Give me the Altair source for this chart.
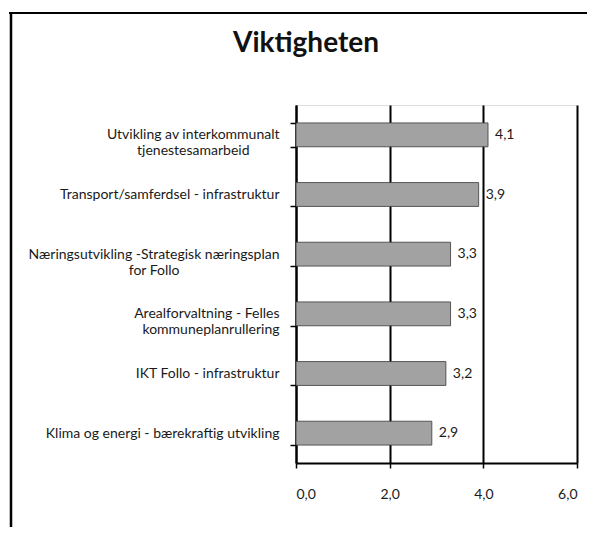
import altair as alt
import pandas as pd

# ---- data ----
line1 = [
    "Utvikling av interkommunalt",
    "Transport/samferdsel - infrastruktur",
    "Næringsutvikling -Strategisk næringsplan",
    "Arealforvaltning - Felles",
    "IKT Follo - infrastruktur",
    "Klima og energi - bærekraftig utvikling",
]
line2 = [
    "tjenestesamarbeid",
    "",
    "for Follo",
    "kommuneplanrullering",
    "",
    "",
]
values = [4.1, 3.9, 3.3, 3.3, 3.2, 2.9]
x_ticks = [0, 2, 4, 6]
title_text = "Viktigheten"

# centring of the second line under the first (Excel-style centred wrapped labels):
# blank, non-whitespace glyphs appended to the shorter line
BLANK = "\u2800"
pad_count = [3, 0, 10, 0, 0, 0]

cats = []
for a, b, n in zip(line1, line2, pad_count):
    cats.append(a + ("|" + b + BLANK * n if b else ""))

df = pd.DataFrame({"cat": cats, "v": values})

FONT = "Lato"

y_enc = alt.Y(
    "cat:N",
    sort=cats,
    scale=alt.Scale(paddingInner=0.6, paddingOuter=0.3),
    axis=alt.Axis(
        title=None,
        labelExpr="split(datum.label, '|')",
        labelFont=FONT,
        labelFontSize=14,
        labelColor="#1a1a1a",
        labelLineHeight=16,
        labelPadding=11,
        labelLimit=400,
        tickBand="extent",
        tickSize=6,
        tickColor="#000",
        tickWidth=1.5,
        domainColor="#000",
        domainWidth=2,
        grid=False,
    ),
)

x_enc = alt.X(
    "v:Q",
    scale=alt.Scale(domain=[0, 6], nice=False),
    axis=alt.Axis(
        title=None,
        values=x_ticks,
        labelExpr="replace(format(datum.value, '.1f'), '.', ',')",
        labelFont=FONT,
        labelFontSize=14,
        labelColor="#1a1a1a",
        labelPadding=19,
        tickSize=5,
        tickColor="#000",
        tickWidth=1.5,
        domainColor="#000",
        domainWidth=2,
        grid=True,
        gridColor="#000",
        gridWidth=2,
        gridOpacity=1,
    ),
)

bars = alt.Chart(df).mark_bar(
    color="#a2a2a2", stroke="#3a3a3a", strokeWidth=0.8
).encode(x=x_enc, y=y_enc)

labels = alt.Chart(df).transform_calculate(
    lab="replace(format(datum.v, '.1f'), '.', ',')"
).mark_text(
    align="left", baseline="middle", dx=7, font=FONT, fontSize=14, color="#1a1a1a"
).encode(x="v:Q", y=alt.Y("cat:N", sort=cats), text="lab:N")

frame_df = pd.DataFrame({"t": [title_text]})
frame_left = alt.Chart(frame_df).mark_rule(color="#000", strokeWidth=2.5).encode(
    x=alt.value(-285), y=alt.value(-92), y2=alt.value(440)
)
frame_top = alt.Chart(frame_df).mark_rule(color="#000", strokeWidth=2).encode(
    x=alt.value(-287), x2=alt.value(291), y=alt.value(-92)
)
title = alt.Chart(frame_df).mark_text(
    align="center", baseline="alphabetic", font=FONT, fontSize=28,
    fontWeight="bold", color="#111"
).encode(x=alt.value(10), y=alt.value(-53), text="t:N")

chart = alt.layer(frame_left, frame_top, title, bars, labels).properties(
    width=281,
    height=358,
    autosize=alt.AutoSizeParams(type="none"),
    padding={"left": 288, "top": 97, "right": 11, "bottom": 64},
).configure_view(stroke=None).configure(background="white")

chart.save("out.html", embed_options={"renderer": "svg", "actions": False})
